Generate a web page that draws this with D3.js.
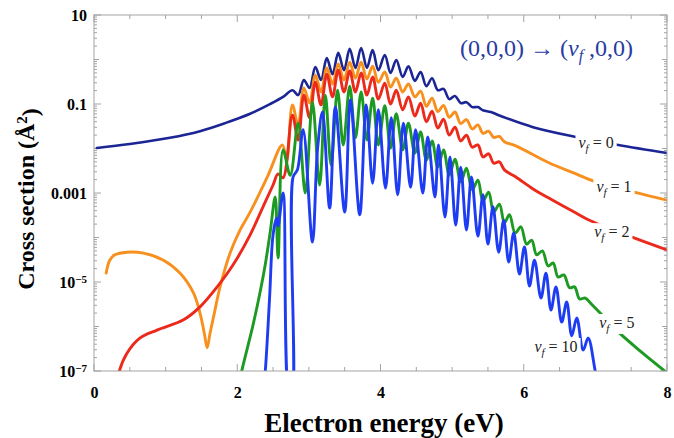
<!DOCTYPE html>
<html><head><meta charset="utf-8">
<script src="https://cdnjs.cloudflare.com/ajax/libs/d3/7.8.5/d3.min.js"></script>
<style>body{margin:0;background:#fff}svg{display:block}</style>
</head><body>
<svg id="c" width="674" height="438"></svg>
<script>
// ---------- data ----------
const xTickValues = [0, 2, 4, 6, 8];
const yTickValues = [10, 0.1, 0.001, 1e-5, 1e-7];
const yTickBase = ["10", "0.1", "0.001", "10", "10"];
const yTickExp = ["", "", "", "\u22125", "\u22127"];
const seriesNames = ["0", "1", "2", "5", "10"];
const seriesColors = ["#1b2594", "#f7901e", "#ec2a1c", "#1c9a22", "#1e3df2"];
// each point: [electron energy (eV), log10 of cross section (Å²)]
const vf0 = [[0.04,-1.99],[0.50,-1.90],[1.06,-1.76],[1.48,-1.61],[1.83,-1.43],[2.18,-1.22],[2.46,-1.00],[2.64,-0.84],
[2.77,-0.69],[2.85,-0.80],[2.93,-0.46],[3.01,-0.64],[3.09,-0.17],[3.17,-0.46],[3.25,0.03],[3.33,-0.33],
[3.41,0.15],[3.49,-0.24],[3.57,0.24],[3.65,-0.19],[3.73,0.26],[3.81,-0.19],[3.89,0.21],[3.97,-0.24],
[4.06,0.10],[4.14,-0.30],[4.22,-0.01],[4.31,-0.39],[4.39,-0.15],[4.48,-0.48],[4.56,-0.28],[4.64,-0.60],
[4.72,-0.42],[4.80,-0.69],[4.88,-0.66],[4.96,-0.89],[5.04,-0.82],[5.12,-0.98],[5.20,-0.96],[5.28,-1.07],
[5.36,-1.07],[5.43,-1.14],[5.54,-1.18],[5.68,-1.27],[6.13,-1.52],[6.73,-1.74],[7.32,-1.92],[8.0,-2.10]];
const vf1 = [[0.17,-4.80],[0.22,-4.51],[0.29,-4.39],[0.46,-4.33],[0.69,-4.35],[0.97,-4.51],[1.20,-4.80],[1.39,-5.25],
[1.48,-5.70],[1.54,-6.15],[1.58,-6.48],[1.62,-6.15],[1.68,-5.70],[1.76,-5.11],[1.90,-4.35],[2.04,-3.83],
[2.18,-3.43],[2.42,-2.64],[2.63,-1.92],[2.69,-2.26],[2.77,-1.02],[2.85,-1.47],[2.93,-0.64],[3.01,-0.98],
[3.09,-0.35],[3.17,-0.73],[3.25,-0.19],[3.33,-0.55],[3.41,-0.10],[3.49,-0.46],[3.57,-0.06],[3.65,-0.42],
[3.73,-0.06],[3.81,-0.44],[3.89,-0.15],[3.97,-0.51],[4.06,-0.28],[4.14,-0.62],[4.22,-0.42],[4.31,-0.73],
[4.39,-0.55],[4.48,-0.84],[4.56,-0.71],[4.64,-1.05],[4.72,-0.87],[4.80,-1.17],[4.88,-1.03],[4.96,-1.30],
[5.04,-1.18],[5.12,-1.44],[5.20,-1.35],[5.28,-1.56],[5.36,-1.47],[5.43,-1.66],[5.51,-1.61],[5.58,-1.75],
[5.66,-1.73],[5.73,-1.85],[5.89,-1.94],[6.35,-2.32],[6.73,-2.57],[7.01,-2.75],[7.54,-2.98],[8.0,-3.16]];
const vf2 = [[0.32,-7.32],[0.35,-7.02],[0.46,-6.60],[0.64,-6.26],[0.88,-6.08],[1.25,-5.85],[1.48,-5.56],[1.72,-5.11],
[1.94,-4.62],[2.18,-3.94],[2.36,-3.31],[2.50,-2.82],[2.57,-2.57],[2.64,-2.66],[2.77,-1.25],[2.85,-1.81],
[2.93,-0.80],[3.01,-1.31],[3.09,-0.51],[3.17,-1.02],[3.25,-0.33],[3.33,-0.84],[3.41,-0.24],[3.49,-0.73],
[3.57,-0.26],[3.65,-0.73],[3.73,-0.30],[3.81,-0.80],[3.89,-0.39],[3.97,-0.89],[4.06,-0.53],[4.14,-1.00],
[4.22,-0.69],[4.31,-1.13],[4.39,-0.84],[4.48,-1.27],[4.56,-0.98],[4.64,-1.40],[4.72,-1.16],[4.80,-1.54],
[4.88,-1.34],[4.96,-1.70],[5.04,-1.52],[5.12,-1.83],[5.20,-1.70],[5.28,-1.97],[5.36,-1.92],[5.43,-2.19],
[5.51,-2.12],[5.58,-2.33],[5.66,-2.30],[5.73,-2.48],[5.89,-2.64],[6.13,-2.91],[6.38,-3.14],[6.73,-3.45],
[6.94,-3.63],[7.54,-4.01],[8.0,-4.28]];
const vf5 = [[2.01,-7.43],[2.06,-7.02],[2.22,-5.97],[2.32,-5.22],[2.39,-4.62],[2.46,-3.88],[2.53,-3.09],[2.57,-4.46],
[2.64,-2.03],[2.74,-2.60],[2.85,-1.43],[2.95,-3.00],[3.05,-0.96],[3.15,-2.82],[3.23,-0.80],[3.31,-2.37],
[3.40,-0.69],[3.48,-1.92],[3.57,-0.60],[3.65,-1.76],[3.73,-0.73],[3.81,-1.81],[3.89,-0.87],[3.97,-1.92],
[4.06,-1.04],[4.14,-1.99],[4.22,-1.22],[4.31,-2.03],[4.39,-1.43],[4.48,-2.10],[4.56,-1.63],[4.64,-2.26],
[4.72,-1.83],[4.80,-2.42],[4.88,-2.03],[4.96,-2.60],[5.04,-2.24],[5.12,-2.75],[5.20,-2.44],[5.28,-2.93],
[5.36,-2.71],[5.43,-3.18],[5.51,-2.98],[5.58,-3.43],[5.66,-3.25],[5.73,-3.67],[5.80,-3.49],[5.88,-3.90],
[5.96,-3.76],[6.04,-4.15],[6.11,-4.06],[6.18,-4.39],[6.26,-4.30],[6.34,-4.64],[6.41,-4.57],[6.48,-4.89],
[6.56,-4.84],[6.64,-5.13],[6.71,-5.11],[6.78,-5.38],[6.86,-5.36],[6.94,-5.49],[7.08,-5.72],[7.32,-6.12],
[7.64,-6.57],[8.0,-7.04]];
const vf10 = [[2.36,-7.43],[2.39,-7.02],[2.45,-5.40],[2.50,-3.94],[2.55,-3.56],[2.57,-3.74],[2.64,-3.00],[2.73,-7.65],
[2.76,-7.65],[2.78,-2.64],[2.84,-2.48],[2.92,-1.58],[3.05,-4.10],[3.12,-2.03],[3.19,-1.18],[3.29,-3.34],
[3.37,-1.07],[3.50,-3.43],[3.58,-0.91],[3.71,-3.49],[3.80,-1.02],[3.89,-2.78],[3.97,-1.13],[4.07,-2.89],
[4.15,-1.31],[4.24,-3.04],[4.32,-1.43],[4.42,-2.87],[4.49,-1.58],[4.59,-3.00],[4.66,-1.74],[4.76,-3.09],
[4.81,-1.92],[4.90,-3.54],[4.97,-2.19],[5.05,-3.72],[5.12,-2.42],[5.20,-3.83],[5.27,-2.64],[5.36,-3.97],
[5.43,-3.04],[5.50,-4.15],[5.57,-3.31],[5.65,-4.33],[5.72,-3.61],[5.79,-4.55],[5.86,-3.90],[5.94,-4.82],
[6.01,-4.21],[6.08,-5.09],[6.15,-4.51],[6.24,-5.36],[6.31,-4.80],[6.38,-5.63],[6.45,-5.11],[6.53,-5.90],
[6.60,-5.45],[6.67,-6.21],[6.74,-5.81],[6.83,-6.53],[6.90,-6.26],[7.01,-7.09],[7.08,-7.43]];
const seriesData = [vf0, vf1, vf2, vf5, vf10];
// label anchor for each curve label: [energy, log10 cross section]
const labelAnchors = [[7.01,-1.88],[7.26,-2.87],[7.23,-3.88],[7.30,-5.92],[6.45,-6.46]];

// ---------- chart ----------
const L = 94, R = 667, T = 15, B = 371;
const svg = d3.select("#c");
const x = d3.scaleLinear().domain([0, 8]).range([L, R]);
const y = d3.scaleLog().domain([1e-7, 10]).range([B, T]);
const frameColor = "#a3a3a3";
const serif = "'Liberation Serif','Times New Roman',serif";

svg.append("clipPath").attr("id", "clip").append("rect")
  .attr("x", L).attr("y", T).attr("width", R - L).attr("height", B - T);

// ticks
const xMinor = d3.range(0, 8.001, 0.5);
const yDecades = d3.range(-7, 2).map(e => Math.pow(10, e));
const yMinor = [];
d3.range(-7, 1).forEach(e => { for (let k = 2; k < 10; k++) yMinor.push(k * Math.pow(10, e)); });
const tg = svg.append("g").attr("stroke", frameColor).attr("stroke-width", 1);
xMinor.forEach(v => {
  const len = xTickValues.includes(v) ? 7 : 4;
  tg.append("line").attr("x1", x(v)).attr("x2", x(v)).attr("y1", B).attr("y2", B - len);
  tg.append("line").attr("x1", x(v)).attr("x2", x(v)).attr("y1", T).attr("y2", T + len);
});
yDecades.forEach(v => {
  const len = yTickValues.includes(v) ? 7 : 5;
  tg.append("line").attr("x1", L).attr("x2", L + len).attr("y1", y(v)).attr("y2", y(v));
  tg.append("line").attr("x1", R).attr("x2", R - len).attr("y1", y(v)).attr("y2", y(v));
});
yMinor.forEach(v => {
  tg.append("line").attr("x1", L).attr("x2", L + 3).attr("y1", y(v)).attr("y2", y(v));
  tg.append("line").attr("x1", R).attr("x2", R - 3).attr("y1", y(v)).attr("y2", y(v));
});

// curves
const line = d3.line().x(d => x(d[0])).y(d => y(Math.pow(10, d[1]))).curve(d3.curveCatmullRom.alpha(0.5));
const cg = svg.append("g").attr("clip-path", "url(#clip)");
seriesData.forEach((s, i) => {
  cg.append("path").attr("d", line(s)).attr("fill", "none")
    .attr("stroke", seriesColors[i]).attr("stroke-width", i === 0 ? 2.6 : 2.9)
    .attr("stroke-linejoin", "round").attr("stroke-linecap", "round");
});

// frame
svg.append("rect").attr("x", L).attr("y", T).attr("width", R - L).attr("height", B - T)
  .attr("fill", "none").attr("stroke", frameColor).attr("stroke-width", 1);

// axis labels (bottom)
const xa = svg.append("g").attr("transform", `translate(0,${B})`)
  .call(d3.axisBottom(x).tickValues(xTickValues).tickSize(0).tickPadding(16).tickFormat(d3.format("d")));
xa.select(".domain").remove();
xa.selectAll("text").attr("font-family", serif).attr("font-weight", "bold").attr("font-size", 16).attr("fill", "#000");

const ya = svg.append("g").attr("transform", `translate(${L},0)`)
  .call(d3.axisLeft(y).tickValues(yTickValues).tickSize(0).tickPadding(7).tickFormat(() => ""));
ya.select(".domain").remove();
ya.selectAll("text").each(function(d, i) {
  const t = d3.select(this).attr("font-family", serif).attr("font-weight", "bold").attr("font-size", 16).attr("fill", "#000");
  t.text(null);
  t.append("tspan").text(yTickBase[i]);
  if (yTickExp[i]) t.append("tspan").attr("dy", "-0.45em").attr("font-size", 11).text(yTickExp[i]);
});

// axis titles
svg.append("text").attr("x", 384).attr("y", 432).attr("text-anchor", "middle")
  .attr("font-family", serif).attr("font-weight", "bold").attr("font-size", 27).text("Electron energy (eV)");
const yt = svg.append("text").attr("transform", "translate(34,199) rotate(-90)").attr("text-anchor", "middle")
  .attr("font-family", serif).attr("font-weight", "bold").attr("font-size", 24);
yt.append("tspan").text("Cross section (\u00C5");
yt.append("tspan").attr("dy", "-0.45em").attr("font-size", 15).text("2");
yt.append("tspan").attr("dy", "0.45em").text(")");

// curve labels
seriesNames.forEach((n, i) => {
  const a = labelAnchors[i];
  const g = svg.append("g");
  const t = g.append("text").attr("x", x(a[0])).attr("y", y(Math.pow(10, a[1])) + 5)
    .attr("text-anchor", "middle").attr("font-family", serif).attr("font-size", 16).attr("fill", "#222");
  t.append("tspan").attr("font-style", "italic").text("v");
  t.append("tspan").attr("font-style", "italic").attr("font-size", 11).attr("dy", 4).text("f");
  t.append("tspan").attr("dy", -4).text(" = " + n);
  const bb = t.node().getBBox();
  g.insert("rect", "text").attr("x", bb.x - 3).attr("y", bb.y).attr("width", bb.width + 6).attr("height", bb.height)
    .attr("fill", "#fff");
});

// title
const tt = svg.append("text").attr("x", 460).attr("y", 56).attr("font-family", serif).attr("font-size", 24).attr("fill", "#2a3b9f");
tt.append("tspan").text("(0,0,0) \u2192 (");
tt.append("tspan").attr("font-style", "italic").text("v");
tt.append("tspan").attr("font-style", "italic").attr("font-size", 16).attr("dy", 5).text("f");
tt.append("tspan").attr("dy", -5).text(" ,0,0)");
</script>
</body></html>
